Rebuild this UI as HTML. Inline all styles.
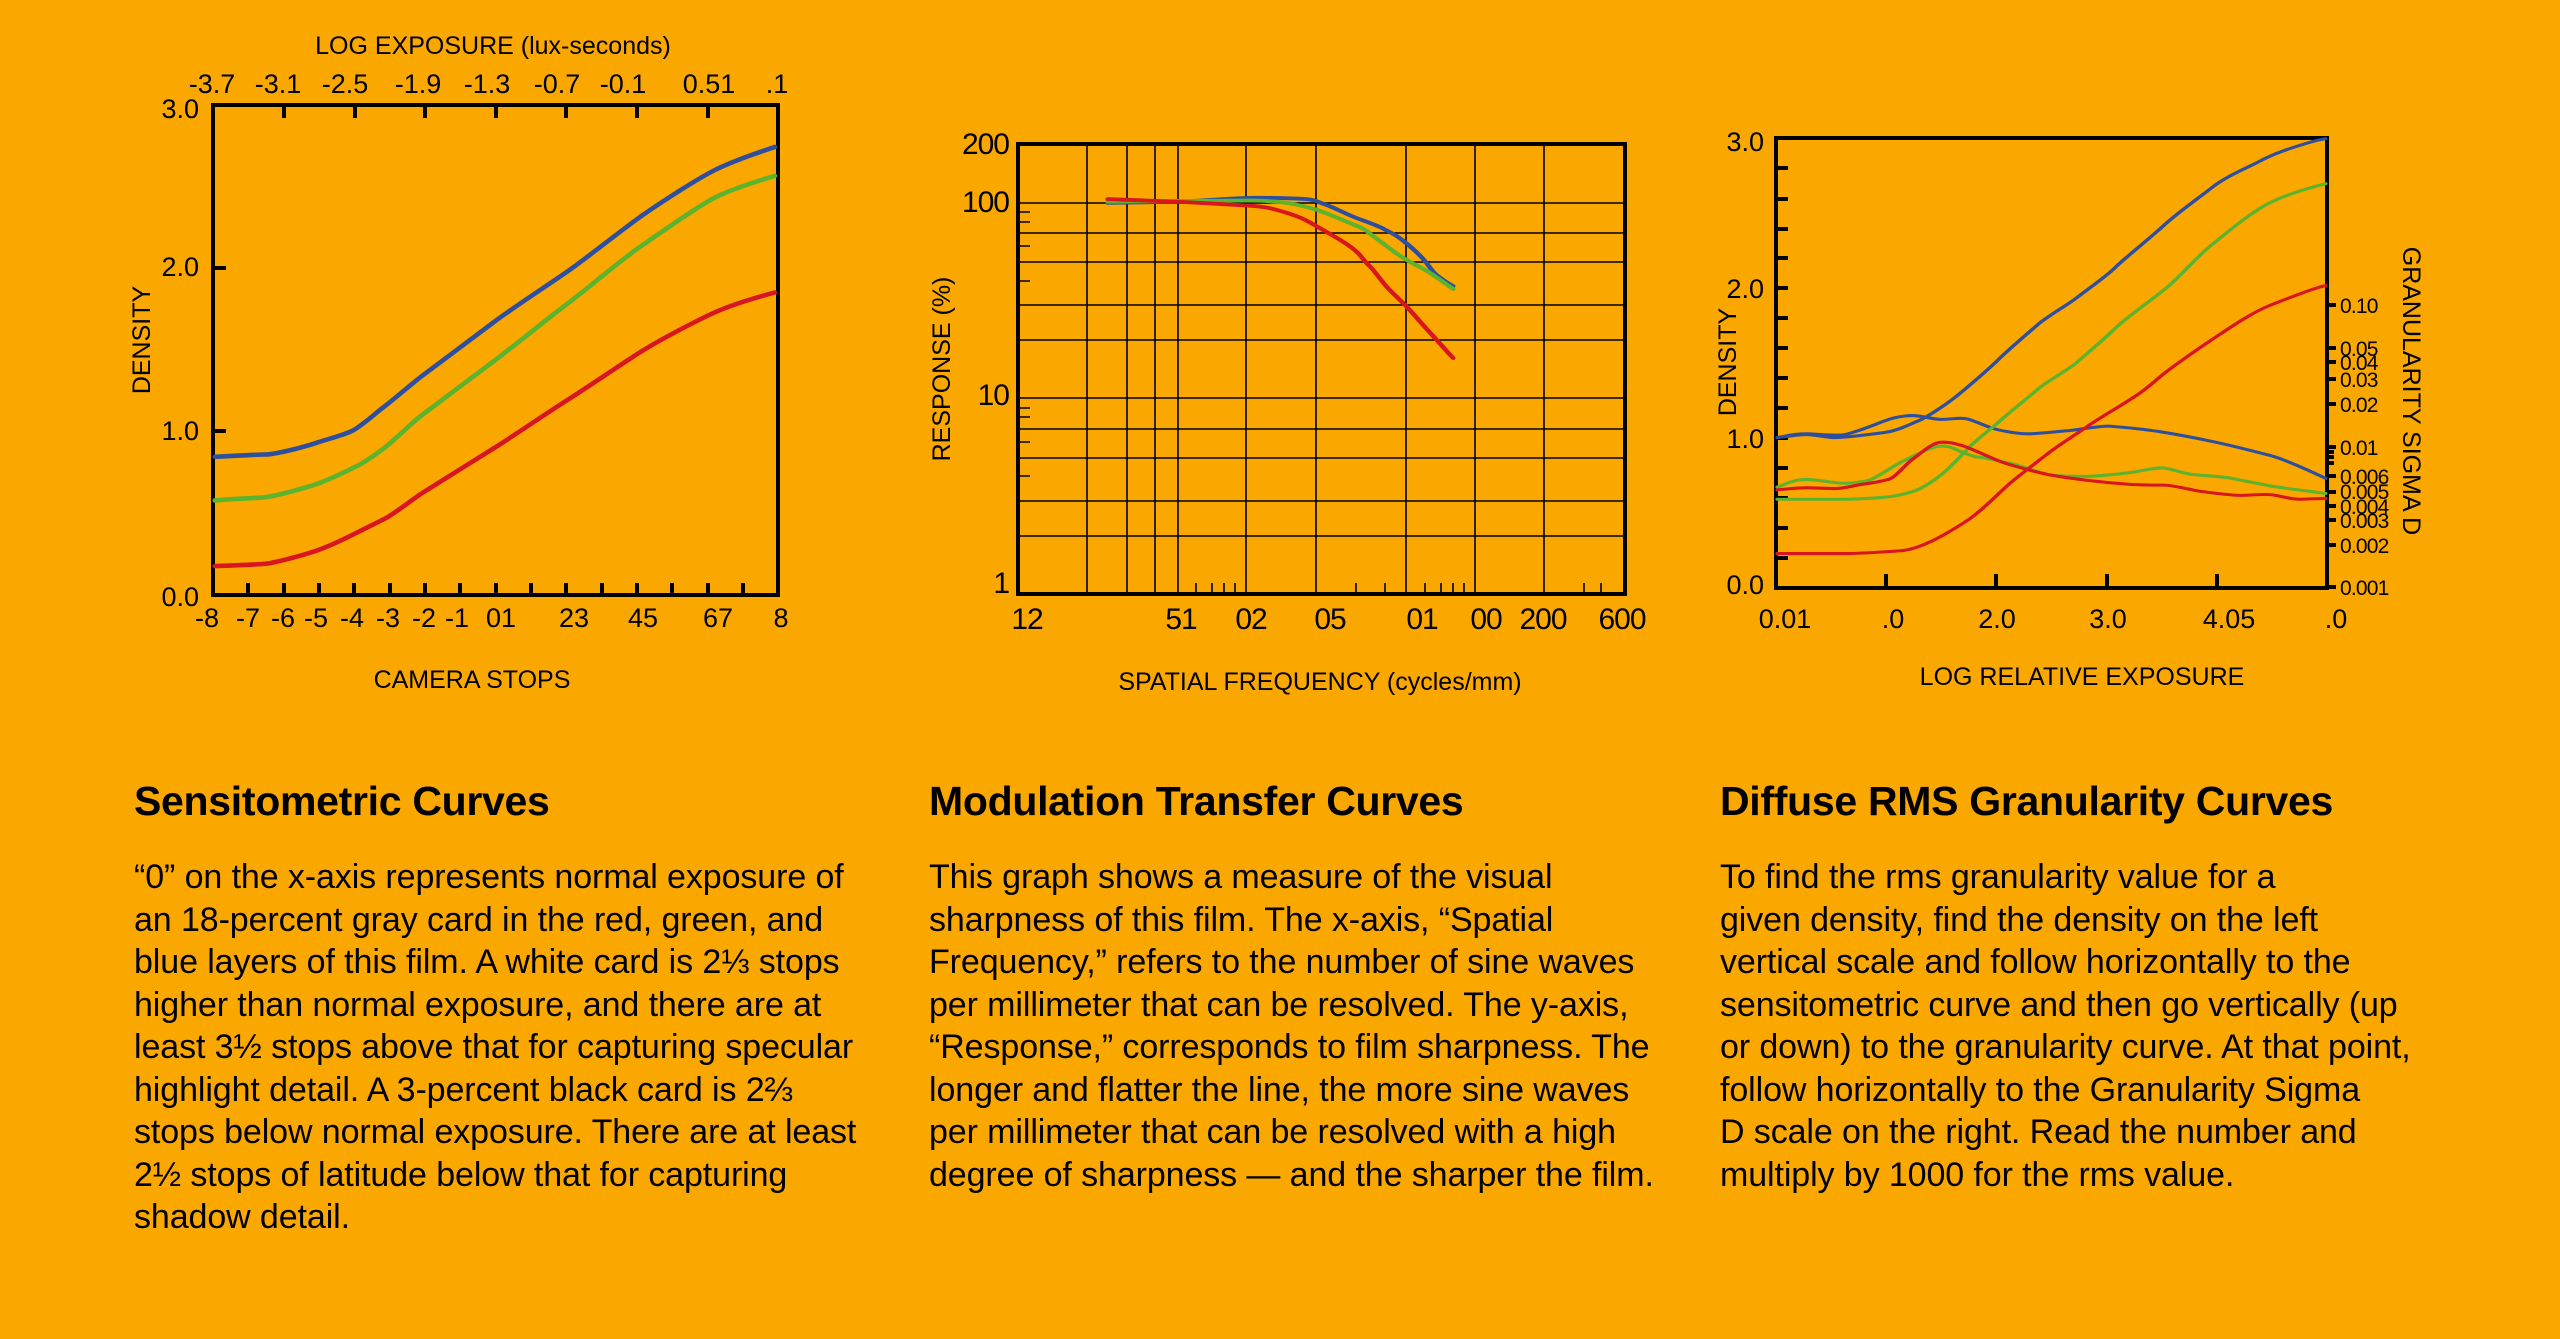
<!DOCTYPE html>
<html><head><meta charset="utf-8"><style>
html,body{margin:0;padding:0;}
body{width:2560px;height:1339px;background:#FAA700;position:relative;overflow:hidden;font-family:"Liberation Sans",sans-serif;color:#000;}
svg{position:absolute;left:0;top:0;}
.h{position:absolute;font-weight:bold;font-size:41px;letter-spacing:-0.3px;white-space:nowrap;}
.b{position:absolute;font-size:34px;letter-spacing:-0.1px;line-height:42.5px;white-space:nowrap;}
</style></head><body>
<svg width="2560" height="760" viewBox="0 0 2560 760" font-family="Liberation Sans, sans-serif">
<!-- CHART 1 -->
<g fill="none" stroke="#000" stroke-width="4">
<rect x="213" y="105" width="565" height="490"/>
<path d="M284 105v13M355 105v13M425 105v13M496 105v13M566 105v13M637 105v13M708 105v13M213 268h13M213 431h13"/>
<path d="M248 595v-12M284 595v-12M319 595v-12M354 595v-12M390 595v-12M425 595v-12M460 595v-12M496 595v-12M531 595v-12M566 595v-12M602 595v-12M637 595v-12M672 595v-12M708 595v-12M743 595v-12"/>
</g>
<g transform="translate(100,0) scale(0.4591)" fill="none" stroke-width="10" stroke-linecap="round">
<path stroke="#2D4F9E" d="M250 995 C300 993 340 990 360 990 S440 975 470 965 S530 948 550 938 S600 900 620 885 S680 835 700 820 S820 730 860 700 S980 618 1020 590 S1140 498 1180 470 S1300 390 1340 370 S1440 330 1470 320"/>
<path stroke="#5BB32E" d="M250 1090 C300 1086 340 1085 360 1083 S440 1065 470 1055 S540 1025 560 1015 S600 990 620 975 S680 920 700 905 S820 815 860 785 S980 690 1020 660 S1140 562 1180 535 S1300 450 1340 430 S1440 392 1470 383"/>
<path stroke="#D7161F" d="M250 1233 C300 1231 340 1230 360 1228 S440 1210 470 1200 S530 1175 550 1165 S600 1140 620 1130 S680 1088 700 1075 S820 1000 860 975 S980 895 1020 870 S1140 790 1180 765 S1300 698 1340 680 S1440 645 1470 637"/>
</g>
<g font-size="27" text-anchor="middle">
<text x="212" y="93">-3.7</text><text x="278" y="93">-3.1</text><text x="345" y="93">-2.5</text><text x="418" y="93">-1.9</text><text x="487" y="93">-1.3</text><text x="557" y="93">-0.7</text><text x="623" y="93">-0.1</text><text x="709" y="93">0.51</text><text x="777" y="93">.1</text>
<text x="207" y="627">-8</text><text x="248" y="627">-7</text><text x="283" y="627">-6</text><text x="316" y="627">-5</text><text x="352" y="627">-4</text><text x="388" y="627">-3</text><text x="424" y="627">-2</text><text x="457" y="627">-1</text><text x="501" y="627">01</text><text x="574" y="627">23</text><text x="643" y="627">45</text><text x="718" y="627">67</text><text x="781" y="627">8</text>
</g>
<g font-size="27" text-anchor="end">
<text x="199" y="118">3.0</text><text x="199" y="276">2.0</text><text x="199" y="440">1.0</text><text x="199" y="606">0.0</text>
</g>
<g font-size="25">
<text x="493" y="54" text-anchor="middle">LOG EXPOSURE (lux-seconds)</text>
<text x="472" y="688" text-anchor="middle">CAMERA STOPS</text>
<text transform="translate(150,340) rotate(-90)" text-anchor="middle">DENSITY</text>
</g>

<!-- CHART 2 -->
<g fill="none" stroke="#000">
<g stroke-width="1.6">
<path d="M1018 203H1625M1018 233H1625M1018 262H1625M1018 305H1625M1018 340H1625M1018 398H1625M1018 429H1625M1018 458H1625M1018 501H1625M1018 536H1625"/>
<path d="M1087 144V594M1127 144V594M1155 144V594M1178 144V594M1246 144V594M1316 144V594M1406 144V594M1475 144V594M1544 144V594"/>
<path d="M1018 212h12M1018 222h12M1018 246h12M1018 281h12M1018 408h12M1018 417h12M1018 442h12M1018 476h12"/>
<path d="M1196 594v-11M1212 594v-11M1224 594v-11M1235 594v-11M1356 594v-11M1385 594v-11M1425 594v-11M1441 594v-11M1453 594v-11M1464 594v-11M1584 594v-11M1601 594v-11"/>
</g>
<rect x="1018" y="144" width="607" height="450" stroke-width="4"/>
</g>
<g transform="translate(900,100) scale(0.4831,0.3839)" fill="none" stroke-width="10" stroke-linecap="round">
<path stroke="#2D4F9E" d="M430 268 C500 267 540 266 575 265 S680 256 720 255 S820 256 840 258 S865 266 880 272 S920 295 940 305 S985 325 1000 335 S1025 350 1040 365 S1065 390 1080 410 S1100 445 1110 455 S1135 478 1145 485"/>
<path stroke="#5BB32E" d="M430 265 C500 264 540 263 575 263 S680 262 720 262 S780 265 800 268 S840 278 860 285 S910 310 940 325 S965 342 980 355 S1015 390 1040 410 S1070 430 1090 445 S1130 480 1145 492"/>
<path stroke="#D7161F" d="M430 258 C500 261 540 263 575 265 S680 272 720 275 S770 283 790 290 S830 305 850 320 S905 358 930 380 S955 412 970 430 S995 470 1010 490 S1035 520 1050 540 S1085 590 1100 610 S1135 660 1145 672"/>
</g>
<g font-size="30" text-anchor="end" letter-spacing="-1">
<text x="1009" y="154">200</text><text x="1009" y="212">100</text><text x="1009" y="405">10</text><text x="1009" y="593">1</text>
</g>
<g font-size="30" text-anchor="middle" letter-spacing="-1">
<text x="1027" y="629">12</text><text x="1181" y="629">51</text><text x="1251" y="629">02</text><text x="1330" y="629">05</text><text x="1422" y="629">01</text><text x="1486" y="629">00</text><text x="1543" y="629">200</text><text x="1622" y="629">600</text>
</g>
<g font-size="25">
<text x="1320" y="690" text-anchor="middle">SPATIAL FREQUENCY (cycles/mm)</text>
<text transform="translate(950,369) rotate(-90)" text-anchor="middle">RESPONSE (%)</text>
</g>

<!-- CHART 3 -->
<g fill="none" stroke="#000" stroke-width="4">
<rect x="1776" y="138" width="551" height="450"/>
<path d="M1776 168h12M1776 199h12M1776 229h12M1776 258h12M1776 288h12M1776 318h12M1776 348h12M1776 378h12M1776 408h12M1776 438h12M1776 468h12M1776 498h12M1776 528h12M1776 558h12"/>
<path d="M1886 588v-14M1996 588v-14M2107 588v-14M2217 588v-14"/>
<path d="M2327 305h9M2327 348h9M2327 362h9M2327 379h9M2327 404h9M2327 447h9M2327 452h7M2327 457h7M2327 463h7M2327 476h9M2327 492h9M2327 506h9M2327 520h9M2327 545h9M2327 587h9"/>
</g>
<g transform="translate(1700,100) scale(0.4831,0.3802)" fill="none" stroke-width="8" stroke-linecap="round">
<path stroke="#2D4F9E" d="M160 888 C190 884 200 880 220 880 S260 888 280 888 S350 880 380 875 S430 855 450 845 S510 800 530 780 S600 705 620 680 S680 612 700 590 S760 540 780 520 S840 465 860 440 S930 365 960 330 S1030 260 1060 230 S1130 180 1160 160 S1220 128 1240 120 S1280 104 1295 102"/>
<path stroke="#2D4F9E" d="M160 888 C190 880 200 878 220 878 S280 885 300 880 S360 855 380 845 S420 830 440 830 S480 840 500 840 S535 835 550 838 S590 858 610 865 S660 878 680 878 S740 872 760 870 S830 856 850 858 S920 866 950 872 S1030 890 1060 898 S1150 925 1180 935 S1270 980 1295 995"/>
<path stroke="#5BB32E" d="M160 1050 C250 1050 280 1050 300 1050 S360 1047 380 1045 S420 1038 440 1030 S480 1005 500 985 S540 935 560 910 S600 868 620 845 S680 782 700 760 S760 712 780 690 S840 625 860 600 S930 530 960 500 S1030 410 1060 380 S1140 295 1180 270 S1270 228 1295 220"/>
<path stroke="#5BB32E" d="M160 1018 C190 1003 200 998 220 998 S280 1008 300 1008 S335 1005 350 1000 S400 962 420 950 S480 910 500 910 S525 918 540 925 S565 938 580 940 S620 950 640 955 S700 980 720 985 S780 990 800 990 S880 982 900 978 S945 966 960 968 S1000 982 1020 985 S1080 990 1100 995 S1160 1010 1180 1015 S1270 1030 1295 1035"/>
<path stroke="#D7161F" d="M160 1193 C250 1193 280 1193 300 1193 S400 1188 420 1185 S460 1172 480 1160 S535 1122 560 1100 S620 1032 640 1010 S700 950 720 930 S780 878 800 860 S870 805 900 780 S940 740 960 720 S1030 655 1060 630 S1140 560 1180 540 S1270 495 1295 488"/>
<path stroke="#D7161F" d="M160 1025 C190 1022 200 1020 220 1020 S260 1022 280 1022 S320 1013 340 1010 S375 1003 390 998 S425 958 440 945 S480 900 500 900 S525 903 540 908 S600 940 620 950 S700 980 720 985 S780 997 800 1000 S860 1008 880 1010 S940 1013 960 1013 S1020 1027 1040 1030 S1100 1040 1120 1040 S1160 1036 1180 1038 S1220 1050 1240 1050 S1280 1048 1295 1048"/>
</g>
<g font-size="27" text-anchor="end">
<text x="1764" y="151">3.0</text><text x="1764" y="298">2.0</text><text x="1764" y="448">1.0</text><text x="1764" y="594">0.0</text>
</g>
<g font-size="27" text-anchor="middle">
<text x="1785" y="628">0.01</text><text x="1893" y="628">.0</text><text x="1997" y="628">2.0</text><text x="2108" y="628">3.0</text><text x="2229" y="628">4.05</text><text x="2336" y="628">.0</text>
</g>
<g font-size="21" letter-spacing="-0.8">
<text x="2340" y="313">0.10</text><text x="2340" y="356">0.05</text><text x="2340" y="370">0.04</text><text x="2340" y="387">0.03</text><text x="2340" y="412">0.02</text><text x="2340" y="455">0.01</text><text x="2340" y="484">0.006</text><text x="2340" y="499">0.005</text><text x="2340" y="514">0.004</text><text x="2340" y="528">0.003</text><text x="2340" y="553">0.002</text><text x="2340" y="595">0.001</text>
</g>
<g font-size="25">
<text x="2082" y="685" text-anchor="middle">LOG RELATIVE EXPOSURE</text>
<text transform="translate(1736,362) rotate(-90)" text-anchor="middle">DENSITY</text>
<text transform="translate(2403,391) rotate(90)" text-anchor="middle">GRANULARITY SIGMA D</text>
</g>
</svg>

<div class="h" style="left:134px;top:778px;">Sensitometric Curves</div>
<div class="b" style="left:134px;top:856px;">“0” on the x-axis represents normal exposure of<br>an 18-percent gray card in the red, green, and<br>blue layers of this film. A white card is 2⅓ stops<br>higher than normal exposure, and there are at<br>least 3½ stops above that for capturing specular<br>highlight detail. A 3-percent black card is 2⅔<br>stops below normal exposure. There are at least<br>2½ stops of latitude below that for capturing<br>shadow detail.</div>

<div class="h" style="left:929px;top:778px;">Modulation Transfer Curves</div>
<div class="b" style="left:929px;top:856px;">This graph shows a measure of the visual<br>sharpness of this film. The x-axis, “Spatial<br>Frequency,” refers to the number of sine waves<br>per millimeter that can be resolved. The y-axis,<br>“Response,” corresponds to film sharpness. The<br>longer and flatter the line, the more sine waves<br>per millimeter that can be resolved with a high<br>degree of sharpness — and the sharper the film.</div>

<div class="h" style="left:1720px;top:778px;">Diffuse RMS Granularity Curves</div>
<div class="b" style="left:1720px;top:856px;">To find the rms granularity value for a<br>given density, find the density on the left<br>vertical scale and follow horizontally to the<br>sensitometric curve and then go vertically (up<br>or down) to the granularity curve. At that point,<br>follow horizontally to the Granularity Sigma<br>D scale on the right. Read the number and<br>multiply by 1000 for the rms value.</div>
</body></html>
